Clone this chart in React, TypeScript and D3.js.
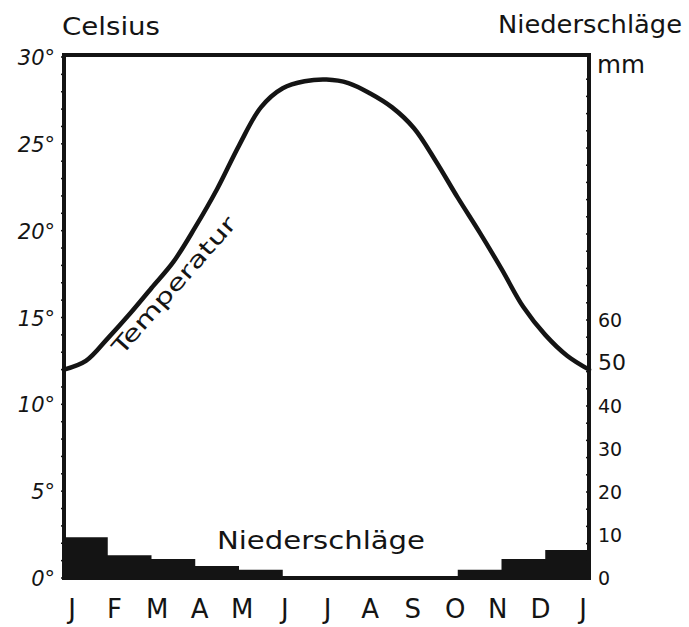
import React from "react";
import * as d3 from "d3";

const monthLabels = ["J", "F", "M", "A", "M", "J", "J", "A", "S", "O", "N", "D", "J"];
// precipitation per month (mm)
const precipitation = [9.5, 5.3, 4.4, 2.8, 1.9, 0, 0, 0, 0, 1.9, 4.4, 6.5];
// temperature read every half month (month index 0..12 in steps of 0.5), °C
const tempSteps = [0, 0.5, 1, 1.5, 2, 2.5, 3, 3.5, 4, 4.5, 5, 5.5, 6, 6.5, 7, 7.5, 8, 8.5, 9, 9.5, 10, 10.5, 11, 11.5, 12];
const temperature = [12.0, 12.5, 13.8, 15.2, 16.7, 18.2, 20.2, 22.4, 24.9, 27.1, 28.2, 28.6, 28.7, 28.5, 27.9, 27.1, 25.9, 24.0, 21.9, 19.9, 17.8, 15.6, 14.0, 12.8, 12.0];
const tempTicks = [0, 5, 10, 15, 20, 25, 30];
const precipTicks = [0, 10, 20, 30, 40, 50, 60];

const W = 689;
const H = 627;
const left = 64;
const right = 589;
const top = 55;
const bottom = 578;
const ink = "#141414";
const font = "'DejaVu Sans', 'Noto Sans', sans-serif";

export default function App() {
  const x = d3.scaleLinear().domain([0, 12]).range([left, right]);
  const yT = d3.scaleLinear().domain([0, 30]).range([bottom, 57]);
  const yP = d3.scaleLinear().domain([0, 10]).range([bottom, 535]);
  const xLab = d3.scalePoint<number>().domain(d3.range(13)).range([72, 583]);

  const line = d3
    .line<number>()
    .x((_, i) => x(tempSteps[i]))
    .y((d) => yT(d))
    .curve(d3.curveCatmullRom.alpha(0.5));

  const barArea = d3
    .area<number>()
    .x((_, i) => x(i))
    .y0(bottom)
    .y1((d) => yP(d))
    .curve(d3.curveStepAfter);

  const stepData = [...precipitation, precipitation[precipitation.length - 1]];

  const minorLeft = d3.range(0, 31, 1);
  const minorRight = d3.range(0, 120, 4);

  return (
    <div style={{ position: "fixed", left: 0, top: 0 }}>
      <svg width={W} height={H} style={{ display: "block", background: "#fff" }}>
        <rect x={0} y={0} width={W} height={H} fill="#fff" />
        {/* precipitation bars */}
        <path d={barArea(stepData) || ""} fill={ink} />
        {/* minor ticks */}
        {minorLeft.map((t) => (
          <line key={"ml" + t} x1={left - 3} x2={left} y1={yT(t)} y2={yT(t)} stroke={ink} strokeWidth={1.5} />
        ))}
        {minorRight
          .filter((m) => yP(m) > top + 4)
          .map((m) => (
            <line key={"mr" + m} x1={right - 3} x2={right} y1={yP(m)} y2={yP(m)} stroke={ink} strokeWidth={1.5} />
          ))}
        {/* frame */}
        <rect x={left} y={top} width={right - left} height={bottom - top} fill="none" stroke={ink} strokeWidth={4} />
        {/* temperature curve */}
        <path d={line(temperature) || ""} fill="none" stroke={ink} strokeWidth={4.5} strokeLinecap="round" strokeLinejoin="round" />
        {/* left tick labels */}
        {tempTicks.map((t) => (
          <text
            key={"tl" + t}
            x={55}
            y={yT(t) + 8}
            textAnchor="end"
            fontFamily={font}
            fontSize={21}
            fontStyle="italic"
            fill={ink}
          >
            {t + "°"}
          </text>
        ))}
        {/* right tick labels */}
        {precipTicks.map((m) => (
          <text
            key={"tr" + m}
            x={598}
            y={yP(m) + 7}
            textAnchor="start"
            fontFamily={font}
            fontSize={m === 50 ? 22 : 19}
            fill={ink}
          >
            {m}
          </text>
        ))}
        {/* month labels */}
        {monthLabels.map((m, i) => (
          <text
            key={"m" + i}
            x={xLab(i)}
            y={618}
            textAnchor="middle"
            fontFamily={font}
            fontSize={26}
            fill={ink}
          >
            {m}
          </text>
        ))}
        {/* titles */}
        <text x={62} y={35} fontFamily={font} fontSize={24} fill={ink} textLength={98} lengthAdjust="spacingAndGlyphs">
          Celsius
        </text>
        <text x={498} y={33} fontFamily={font} fontSize={24} fill={ink} textLength={184} lengthAdjust="spacingAndGlyphs">
          Niederschläge
        </text>
        <text x={597} y={73} fontFamily={font} fontSize={24} fill={ink} textLength={48} lengthAdjust="spacingAndGlyphs">
          mm
        </text>
        <text x={217} y={549} fontFamily={font} fontSize={24} fill={ink} textLength={208} lengthAdjust="spacingAndGlyphs">
          Niederschläge
        </text>
        <text
          transform="translate(122,356) rotate(-48.7)"
          fontFamily={font}
          fontSize={22}
          fill={ink}
          textLength={175}
          lengthAdjust="spacingAndGlyphs"
        >
          Temperatur
        </text>
      </svg>
    </div>
  );
}
